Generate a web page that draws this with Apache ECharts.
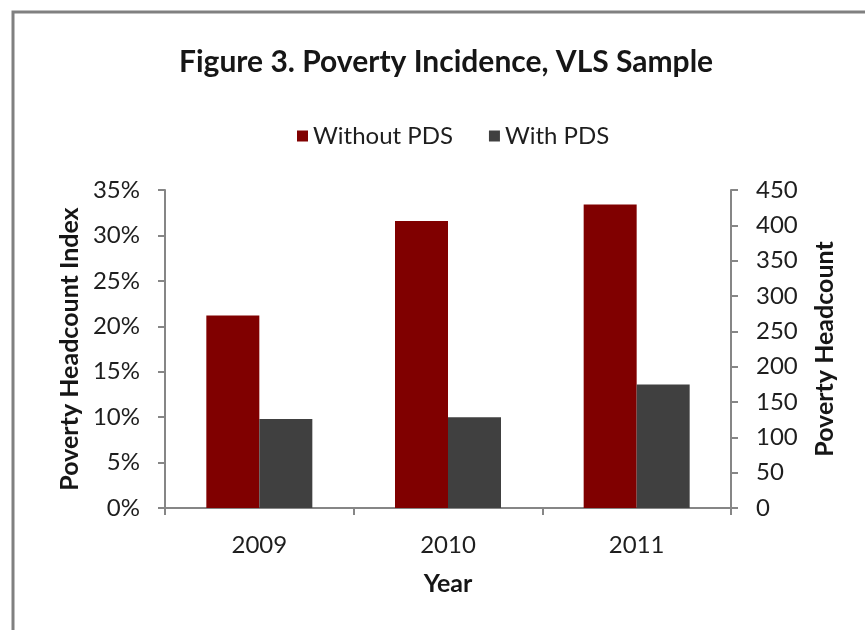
<!DOCTYPE html>
<html>
<head>
<meta charset="utf-8">
<script src="https://cdn.jsdelivr.net/npm/echarts@6/dist/echarts.min.js"></script>
<style>
  html, body { margin: 0; padding: 0; background: #fff; }
  #chart { width: 865px; height: 630px; }
</style>
</head>
<body>
<div id="chart"></div>
<script>
// data
var years = ['2009', '2010', '2011'];
var withoutPds = [21.2, 31.6, 33.4];   // % poverty headcount index
var withPds = [9.8, 10.0, 13.6];
var seriesNames = ['Without PDS', 'With PDS'];

var FONT = 'Lato';
var axisGray = '#868686';

var chart = echarts.init(document.getElementById('chart'));

var option = {
  backgroundColor: '#fff',
  textStyle: { fontFamily: FONT, color: '#1e1e1e' },
  title: {
    text: 'Figure 3. Poverty Incidence, VLS Sample',
    left: 174,
    top: 42,
    textStyle: { fontFamily: FONT, fontSize: 30, fontWeight: 'bold', color: '#161616' }
  },
  legend: {
    data: seriesNames,
    top: 119,
    left: 292,
    icon: 'rect',
    itemWidth: 11,
    itemHeight: 11,
    itemGap: 36,
    textStyle: { fontFamily: FONT, fontSize: 24, color: '#1e1e1e' }
  },
  // picture frame
  graphic: [{
    type: 'rect',
    shape: { x: 13, y: 12, width: 900, height: 700 },
    style: { fill: 'none', stroke: '#808080', lineWidth: 3 },
    silent: true
  }],
  grid: { left: 165, right: 134, top: 190, bottom: 122 },
  xAxis: {
    type: 'category',
    data: years,
    name: 'Year',
    nameLocation: 'middle',
    nameGap: 63,
    nameTextStyle: { fontFamily: FONT, fontSize: 25, fontWeight: 'bold', color: '#161616' },
    axisLine: { lineStyle: { color: axisGray, width: 2 } },
    axisTick: { show: true, length: 7, lineStyle: { color: axisGray, width: 2 } },
    axisLabel: { fontFamily: FONT, fontSize: 24, color: '#1e1e1e', margin: 25 }
  },
  yAxis: [{
    type: 'value',
    min: 0,
    max: 35,
    interval: 5,
    name: 'Poverty Headcount Index',
    nameLocation: 'middle',
    nameGap: 82,
    nameTextStyle: { fontFamily: FONT, fontSize: 25, fontWeight: 'bold', color: '#161616' },
    axisLine: { show: true, lineStyle: { color: axisGray, width: 2 } },
    axisTick: { show: true, length: 7, lineStyle: { color: axisGray, width: 2 } },
    splitLine: { show: false },
    axisLabel: { formatter: '{value}%', fontFamily: FONT, fontSize: 24, color: '#1e1e1e', margin: 25 }
  }, {
    type: 'value',
    position: 'right',
    min: 0,
    max: 450,
    interval: 50,
    name: 'Poverty Headcount',
    nameLocation: 'middle',
    nameGap: 81,
    nameRotate: 90,
    nameTextStyle: { fontFamily: FONT, fontSize: 25, fontWeight: 'bold', color: '#161616' },
    axisLine: { show: true, lineStyle: { color: axisGray, width: 2 } },
    axisTick: { show: true, length: 7, lineStyle: { color: axisGray, width: 2 } },
    splitLine: { show: false },
    axisLabel: { fontFamily: FONT, fontSize: 24, color: '#1e1e1e', margin: 25 }
  }],
  series: [{
    name: seriesNames[0],
    type: 'bar',
    yAxisIndex: 0,
    data: withoutPds,
    barWidth: 53,
    barGap: '0%',
    itemStyle: { color: '#800000' }
  }, {
    name: seriesNames[1],
    type: 'bar',
    yAxisIndex: 0,
    data: withPds,
    barWidth: 53,
    barGap: '0%',
    itemStyle: { color: '#404040' }
  }]
};

chart.setOption(option);
</script>
</body>
</html>
